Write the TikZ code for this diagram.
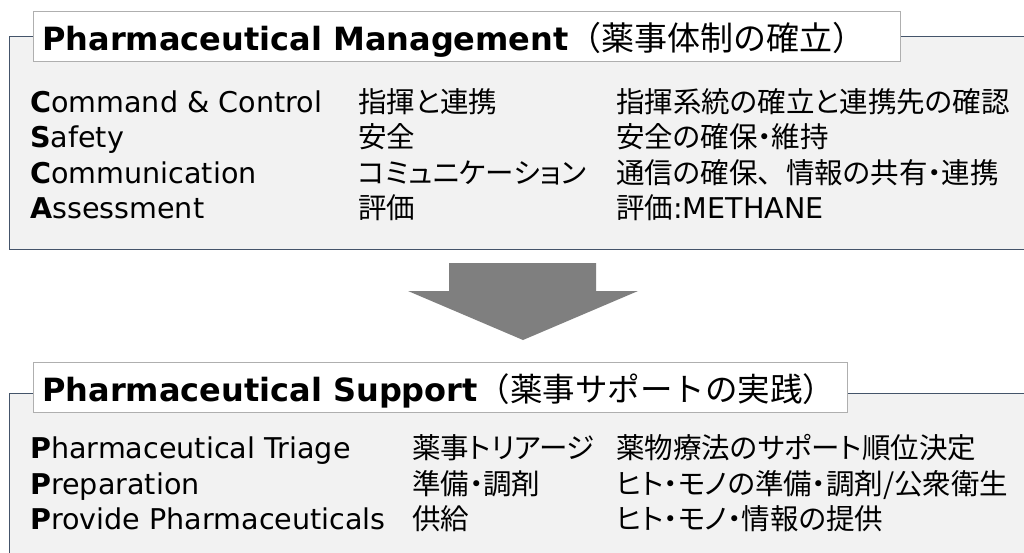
\documentclass[tikz,border=0pt]{standalone}
\usepackage{fontspec}
\setmainfont{DejaVu Sans}
\newfontfamily\jp{Noto Sans CJK JP}
\newfontfamily\jpp[RawFeature=+palt]{Noto Sans CJK JP}
\definecolor{panelfill}{HTML}{F2F2F2}
\definecolor{panelline}{HTML}{44546A}
\definecolor{titleline}{HTML}{AFAFAF}
\definecolor{arrowgray}{HTML}{7F7F7F}
\tikzset{
  panel/.style={fill=panelfill, draw=panelline, line width=1pt},
  titlebox/.style={fill=white, draw=titleline, line width=1.3pt, anchor=north west, inner sep=0pt},
  titletext/.style={anchor=base west, inner sep=0pt, font=\fontsize{32}{36}\selectfont},
  bodytext/.style={anchor=base west, inner sep=0pt, font=\fontsize{28.6}{34}\selectfont},
  jptext/.style={anchor=base west, inner sep=0pt, font=\fontsize{28.5}{34}\selectfont\jpp},
}
\begin{document}
\begin{tikzpicture}[x=1pt,y=-1pt]
\useasboundingbox (0,0) rectangle (1024,552);
\clip (0,0) rectangle (1024,552);
\fill[white] (0,0) rectangle (1024,552);
% top panel
\draw[panel] (9,36) rectangle (1040,249);
\node[titlebox, minimum width=867pt, minimum height=50pt] (tbox1) at (33,11) {};
\node[titletext] (title1) at (42,50) {\textbf{Pharmaceutical Management}{\fontsize{33}{36}\selectfont\jp （薬事体制の確立）}};
\node[bodytext] (a1) at (30,112) {\textbf{C}ommand \& Control};
\node[bodytext] (a2) at (30,147) {\textbf{S}afety};
\node[bodytext] (a3) at (30,183) {\textbf{C}ommunication};
\node[bodytext] (a4) at (30,218) {\textbf{A}ssessment};
\node[jptext] (b1) at (358,112) {指揮と連携};
\node[jptext] (b2) at (358,147) {安全};
\node[jptext] (b3) at (358,183) {コミュニケーション};
\node[jptext] (b4) at (358,218) {評価};
\node[jptext] (c1) at (616,112) {指揮系統の確立と連携先の確認};
\node[jptext] (c2) at (616,147) {安全の確保・維持};
\node[jptext] (c3) at (616,183) {通信の確保{\jp 、}情報の共有・連携};
\node[jptext] (c4) at (616,218) {評価{\rmfamily\fontsize{28.6}{34}\selectfont :METHANE}};
% arrow
\fill[arrowgray] (449,263) -- (596,263) -- (596,291) -- (638,291) -- (523,340) -- (408,291) -- (449,291) -- cycle;
% bottom panel
\draw[panel] (9,393) rectangle (1040,570);
\node[titlebox, minimum width=814pt, minimum height=50pt] (tbox2) at (33,362) {};
\node[titletext] (title2) at (42,401) {\textbf{Pharmaceutical Support}{\fontsize{32.5}{36}\selectfont\jp （薬事サポートの実践）}};
\node[bodytext] (d1) at (30,458) {\textbf{P}harmaceutical Triage};
\node[bodytext] (d2) at (30,494) {\textbf{P}reparation};
\node[bodytext] (d3) at (30,529) {\textbf{P}rovide Pharmaceuticals};
\node[jptext] (e1) at (412,458) {薬事トリアージ};
\node[jptext] (e2) at (412,494) {準備・調剤};
\node[jptext] (e3) at (412,529) {供給};
\node[jptext] (f1) at (616,458) {薬物療法のサポート順位決定};
\node[jptext] (f2) at (616,494) {ヒト・モノの準備・調剤/公衆衛生};
\node[jptext] (f3) at (616,529) {ヒト・モノ・情報の提供};
\end{tikzpicture}
\end{document}
